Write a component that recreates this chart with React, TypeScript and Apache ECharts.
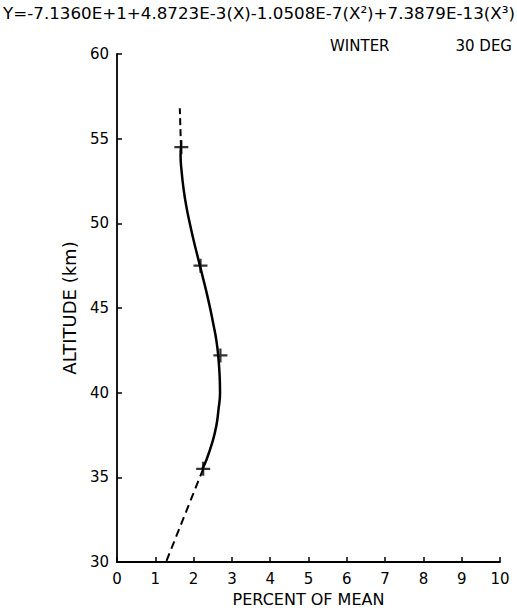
import React, { useEffect, useRef } from "react";
import * as echarts from "echarts";

// Fitted profile (altitude km -> percent of mean)
const curveAltitudes = [35.5, 36, 37, 38, 39, 40, 41, 42, 43, 44, 45, 46, 47, 48, 49, 50, 51, 52, 53, 54, 54.5];
const curvePercents = [2.23, 2.33, 2.48, 2.59, 2.65, 2.69, 2.68, 2.65, 2.6, 2.52, 2.43, 2.33, 2.22, 2.11, 2.0, 1.9, 1.81, 1.74, 1.69, 1.66, 1.67];

// Measured points (plus markers)
const markerAltitudes = [54.5, 47.5, 42.2, 35.5];
const markerPercents = [1.68, 2.18, 2.7, 2.25];

// Dashed extrapolations
const lowerDashAltitudes = [35.5, 30];
const lowerDashPercents = [2.25, 1.28];
const upperDashAltitudes = [54.5, 56.8];
const upperDashPercents = [1.67, 1.64];

const titleText = "Y=-7.1360E+1+4.8723E-3(X)-1.0508E-7(X\u00B2)+7.3879E-13(X\u00B3)";
const seasonText = "WINTER";
const latitudeText = "30 DEG";
const xName = "PERCENT OF MEAN";
const yName = "ALTITUDE (km)";

const FONT = "DejaVu Sans";

function pairs(xs: number[], ys: number[]) {
  return xs.map((x, i) => [x, ys[i]]);
}

export default function App() {
  const ref = useRef<HTMLDivElement>(null);
  useEffect(() => {
    if (!ref.current) return;
    const chart = echarts.init(ref.current, null, { renderer: "svg" });
    const axisCommon = {
      type: "value",
      nameLocation: "middle",
      axisLine: { show: true, lineStyle: { color: "#000", width: 1.8 } },
      axisTick: { show: true, inside: true, length: 5, lineStyle: { color: "#000", width: 1.5 } },
      axisLabel: { color: "#000", fontSize: 15, fontFamily: FONT },
      splitLine: { show: false },
    };
    const plus = "path://M4.2,0H5.8V4.2H10V5.8H5.8V10H4.2V5.8H0V4.2H4.2Z";
    chart.setOption({
      animation: false,
      backgroundColor: "#fff",
      grid: { left: 117, right: 17, top: 54, bottom: 49, containLabel: false, outerBoundsMode: "none" },
      xAxis: {
        ...axisCommon,
        min: 0,
        max: 10,
        interval: 1,
        name: xName,
        nameGap: 29,
        nameTextStyle: { color: "#000", fontSize: 16, fontFamily: FONT },
        axisLabel: { ...axisCommon.axisLabel, margin: 9 },
      },
      yAxis: {
        ...axisCommon,
        min: 30,
        max: 60,
        interval: 5,
        name: yName,
        nameGap: 39,
        nameTextStyle: { color: "#000", fontSize: 18, fontFamily: FONT },
        axisLabel: { ...axisCommon.axisLabel, margin: 8 },
      },
      graphic: [
        {
          type: "text",
          x: 259,
          y: 13,
          style: { text: titleText, fill: "#000", font: `16.7px "${FONT}"`, align: "center", verticalAlign: "middle" },
        },
        {
          type: "text",
          x: 330,
          y: 46,
          style: { text: seasonText, fill: "#000", font: `15px "${FONT}"`, align: "left", verticalAlign: "middle" },
        },
        {
          type: "text",
          x: 512,
          y: 46,
          style: { text: latitudeText, fill: "#000", font: `15px "${FONT}"`, align: "right", verticalAlign: "middle" },
        },
      ],
      series: [
        {
          type: "line",
          data: pairs(curvePercents, curveAltitudes),
          smooth: true,
          symbol: "none",
          lineStyle: { color: "#000", width: 2.5 },
        },
        {
          type: "line",
          data: pairs(lowerDashPercents, lowerDashAltitudes),
          symbol: "none",
          lineStyle: { color: "#000", width: 2, type: [8, 5] },
        },
        {
          type: "line",
          data: pairs(upperDashPercents, upperDashAltitudes),
          symbol: "none",
          lineStyle: { color: "#000", width: 2, type: [7, 4] },
        },
        {
          type: "scatter",
          data: pairs(markerPercents, markerAltitudes),
          symbol: plus,
          symbolSize: 14,
          itemStyle: { color: "#000" },
        },
      ],
    });
    return () => chart.dispose();
  }, []);
  return <div ref={ref} style={{ position: "fixed", left: 0, top: 0, width: 517, height: 611 }} />;
}
